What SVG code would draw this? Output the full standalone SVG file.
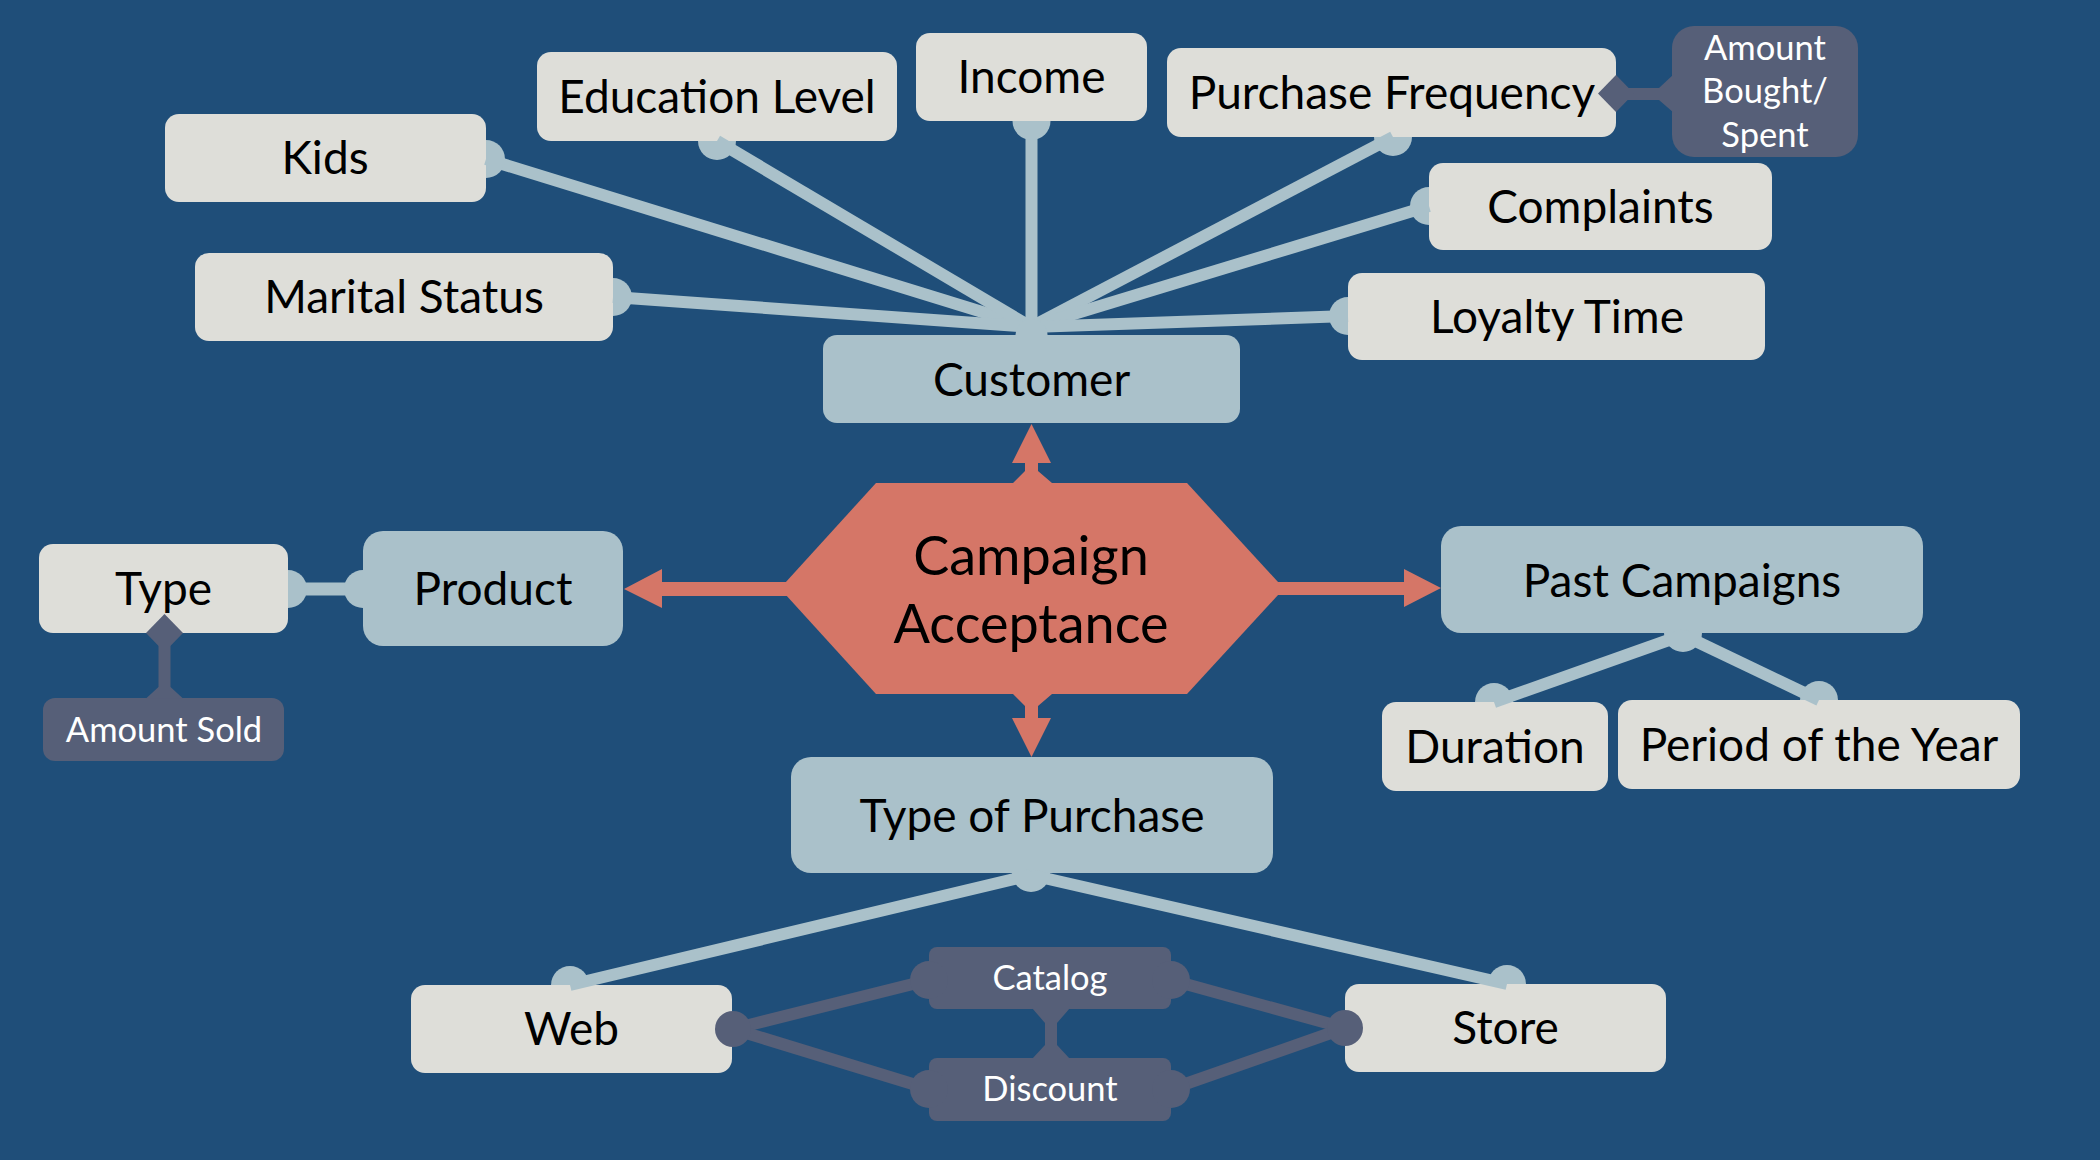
<svg xmlns="http://www.w3.org/2000/svg" width="2100" height="1160" viewBox="0 0 2100 1160">
<style>
.bg{fill:#1F4E79}
.attr{fill:#DEDED9}
.ent{fill:#AAC1CA}
.sub{fill:#565F78}
.core{fill:#D57667}
text{font-family:Lato,"Open Sans","Liberation Sans",sans-serif;text-anchor:middle}
.t{font-size:46px;fill:#000}
.s{font-size:34.5px;fill:#fff}
.big{font-size:54px;fill:#000}
.ll{stroke:#AAC1CA;stroke-width:12;fill:none}
.ld{fill:#AAC1CA}
.dl{stroke:#565F78;stroke-width:12;fill:none}
.dd{fill:#565F78}
.oh{fill:#D57667}
</style>
<rect class="bg" x="0" y="0" width="2100" height="1160"/>

<g id="nodes">
  <g id="kids"><rect class="attr" x="165" y="114" width="321" height="88" rx="14"/><text class="t" x="325" y="174">Kids</text></g>
  <g id="education-level"><rect class="attr" x="537" y="52" width="360" height="89" rx="14"/><text class="t" x="717" y="113">Education Level</text></g>
  <g id="income"><rect class="attr" x="916" y="33" width="231" height="88" rx="14"/><text class="t" x="1031.5" y="93">Income</text></g>
  <g id="purchase-frequency"><rect class="attr" x="1167" y="48" width="449" height="89" rx="14"/><text class="t" x="1392" y="109">Purchase Frequency</text></g>
  <g id="amount-bought-spent"><rect class="sub" x="1672" y="26" width="186" height="131" rx="22"/>
    <text class="s" x="1765" y="60">Amount</text><text class="s" x="1765" y="103">Bought/</text><text class="s" x="1765" y="147">Spent</text></g>
  <g id="complaints"><rect class="attr" x="1429" y="163" width="343" height="87" rx="14"/><text class="t" x="1600.5" y="222.5">Complaints</text></g>
  <g id="marital-status"><rect class="attr" x="195" y="253" width="418" height="88" rx="14"/><text class="t" x="404" y="313">Marital Status</text></g>
  <g id="loyalty-time"><rect class="attr" x="1348" y="273" width="417" height="87" rx="14"/><text class="t" x="1557" y="332.5">Loyalty Time</text></g>
  <g id="customer"><rect class="ent" x="823" y="335" width="417" height="88" rx="14"/><text class="t" x="1031.5" y="395.5">Customer</text></g>
  <g id="campaign-acceptance"><polygon class="core" points="780,588.5 876,483 1187,483 1284,588.5 1187,694 876,694"/>
    <text class="big" x="1031" y="575">Campaign</text><text class="big" x="1031" y="643">Acceptance</text></g>
  <g id="product"><rect class="ent" x="363" y="531" width="260" height="115" rx="20"/><text class="t" x="493" y="605">Product</text></g>
  <g id="type"><rect class="attr" x="39" y="544" width="249" height="89" rx="14"/><text class="t" x="163.5" y="605">Type</text></g>
  <g id="amount-sold"><rect class="sub" x="43" y="698" width="241" height="63" rx="12"/><text class="s" x="164" y="742">Amount Sold</text></g>
  <g id="past-campaigns"><rect class="ent" x="1441" y="526" width="482" height="107" rx="20"/><text class="t" x="1682" y="596.5">Past Campaigns</text></g>
  <g id="duration"><rect class="attr" x="1382" y="702" width="226" height="89" rx="14"/><text class="t" x="1495" y="762.5">Duration</text></g>
  <g id="period-of-the-year"><rect class="attr" x="1618" y="700" width="402" height="89" rx="14"/><text class="t" x="1819" y="760.5">Period of the Year</text></g>
  <g id="type-of-purchase"><rect class="ent" x="791" y="757" width="482" height="116" rx="20"/><text class="t" x="1032" y="832">Type of Purchase</text></g>
  <g id="web"><rect class="attr" x="411" y="985" width="321" height="88" rx="14"/><text class="t" x="571.5" y="1045">Web</text></g>
  <g id="store"><rect class="attr" x="1345" y="984" width="321" height="88" rx="14"/><text class="t" x="1505.5" y="1044">Store</text></g>
  <g id="catalog"><rect class="sub" x="929" y="947" width="242" height="62" rx="8"/><text class="s" x="1050" y="990">Catalog</text></g>
  <g id="discount"><rect class="sub" x="929" y="1058" width="242" height="63" rx="8"/><text class="s" x="1050" y="1101">Discount</text></g>
</g>

<g id="connectors">
  <!-- customer attributes -->
  <line class="ll" x1="486" y1="159" x2="1031" y2="327"/>
  <line class="ll" x1="717" y1="141" x2="1031" y2="327"/>
  <line class="ll" x1="1031.5" y1="121" x2="1031.5" y2="327"/>
  <line class="ll" x1="1393" y1="137" x2="1031" y2="327"/>
  <line class="ll" x1="1429" y1="206" x2="1031" y2="327"/>
  <line class="ll" x1="1348" y1="316" x2="1031" y2="327"/>
  <line class="ll" x1="613" y1="297" x2="1031" y2="327"/>
  <path class="ld" d="M486,140 A19,19 0 0 1 486,178 Z"/>
  <path class="ld" d="M698,141 A19,19 0 0 0 736,141 Z"/>
  <path class="ld" d="M1012.5,121 A19,19 0 0 0 1050.5,121 Z"/>
  <path class="ld" d="M1374,137 A19,19 0 0 0 1412,137 Z"/>
  <path class="ld" d="M1429,187 A19,19 0 0 0 1429,225 Z"/>
  <path class="ld" d="M1348,297 A19,19 0 0 0 1348,335 Z"/>
  <path class="ld" d="M613,278 A19,19 0 0 1 613,316 Z"/>
  <path class="ld" d="M1015.5,335 A16,16 0 0 1 1047.5,335 Z"/>
  <!-- type - product -->
  <line class="ll" x1="288" y1="589" x2="363" y2="589" style="stroke-width:13"/>
  <path class="ld" d="M288,570 A19,19 0 0 1 288,608 Z"/>
  <path class="ld" d="M363,570 A19,19 0 0 0 363,608 Z"/>
  <!-- past campaigns -->
  <line class="ll" x1="1683" y1="635" x2="1494" y2="702"/>
  <line class="ll" x1="1683" y1="635" x2="1819" y2="700"/>
  <path class="ld" d="M1664,633 A19,19 0 0 0 1702,633 Z"/>
  <path class="ld" d="M1475,702 A19,19 0 0 1 1513,702 Z"/>
  <path class="ld" d="M1800,700 A19,19 0 0 1 1838,700 Z"/>
  <!-- type of purchase -->
  <line class="ll" x1="1031" y1="875" x2="570" y2="985"/>
  <line class="ll" x1="1031" y1="875" x2="1507" y2="984"/>
  <path class="ld" d="M1012,873 A19,19 0 0 0 1050,873 Z"/>
  <path class="ld" d="M551,985 A19,19 0 0 1 589,985 Z"/>
  <path class="ld" d="M1488,984 A19,19 0 0 1 1526,984 Z"/>
  <!-- campaign acceptance arrows -->
  <path class="oh" d="M1013,483 L1025,471 L1025,463 L1012,463 L1031.5,424 L1051,463 L1038,463 L1038,471 L1052,483 Z"/>
  <path class="oh" d="M1013,694 L1025,706 L1025,718 L1012,718 L1031.5,757 L1051,718 L1038,718 L1038,706 L1052,694 Z"/>
  <path class="oh" d="M790,582 L662,582 L662,569 L624,589 L662,608 L662,596 L790,596 Z"/>
  <path class="oh" d="M1275,582 L1404,582 L1404,569 L1441,588 L1404,607 L1404,595 L1275,595 Z"/>
  <!-- purchase frequency - amount bought -->
  <line class="dl" x1="1616" y1="94" x2="1662" y2="94"/>
  <polygon class="dd" points="1598,93.5 1616,75 1634,93.5 1616,112"/>
  <polygon class="dd" points="1659,88 1674,74 1674,113 1659,100"/>
  <!-- type - amount sold -->
  <line class="dl" x1="164.5" y1="640" x2="164.5" y2="690"/>
  <polygon class="dd" points="146,633 164.5,614 183,633 164.5,652"/>
  <polygon class="dd" points="158.5,687 146,698.5 183,698.5 170.5,687"/>
  <!-- web / store - catalog / discount -->
  <line class="dl" x1="733" y1="1029" x2="929" y2="980"/>
  <line class="dl" x1="733" y1="1029" x2="929" y2="1089"/>
  <line class="dl" x1="1345" y1="1028" x2="1171" y2="980"/>
  <line class="dl" x1="1345" y1="1028" x2="1171" y2="1089"/>
  <circle class="dd" cx="733" cy="1029" r="18"/>
  <circle class="dd" cx="1345" cy="1028" r="18"/>
  <circle class="dd" cx="929" cy="980" r="19"/>
  <circle class="dd" cx="1171" cy="980" r="19"/>
  <circle class="dd" cx="929" cy="1089" r="19"/>
  <circle class="dd" cx="1171" cy="1089" r="19"/>
  <line class="dl" x1="1051" y1="1009" x2="1051" y2="1058"/>
  <polygon class="dd" points="1032,1008 1070,1008 1057,1023 1045,1023"/>
  <polygon class="dd" points="1045,1045 1057,1045 1070,1059 1032,1059"/>
</g>
</svg>
